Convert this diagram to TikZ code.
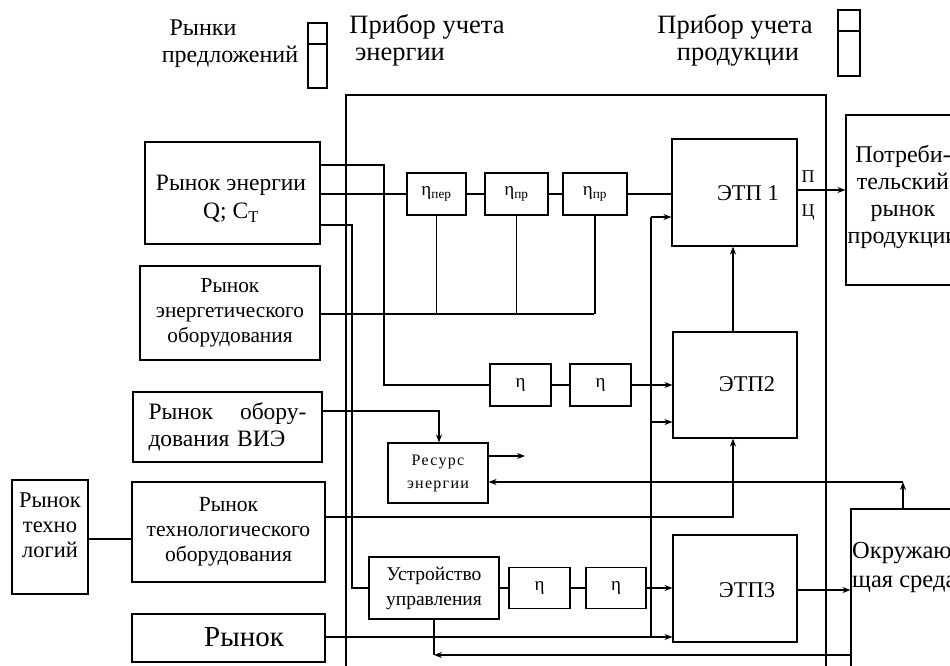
\documentclass[tikz,border=0pt]{standalone}
\usepackage{fontspec}
\setmainfont{Liberation Serif}
\newfontfamily\spcfont[LetterSpace=8]{Liberation Serif}
\usetikzlibrary{arrows.meta}
\newcommand\fz[2]{\fontsize{#1}{#2}\selectfont}
\begin{document}
\begin{tikzpicture}[x=1pt,y=-1pt,
  bx/.style={draw, line width=1.1pt, inner sep=0pt, align=center},
  ln/.style={line width=1.1pt},
  arr/.style={line width=1.1pt, -{Stealth[length=8pt,width=6pt]}},
  txt/.style={inner sep=0pt, align=center},
  eta/.style={bx, font=\fz{19}{22}}]
\clip (0,0) rectangle (950,666);
\fill[white] (0,0) rectangle (950,666);
% legend
\node[txt, font=\fz{24}{29}] (l1) at (203,28) {Рынки};
\node[txt, font=\fz{24}{29}] (l2) at (230,57) {предложений};
\node[txt, font=\fz{26.5}{29}] (l3) at (427,27) {Прибор учета};
\node[txt, font=\fz{26.5}{29}] (l4) at (400,57) {энергии};
\node[txt, font=\fz{26.5}{29}] (l5) at (735,27) {Прибор учета};
\node[txt, font=\fz{26.5}{29}] (l6) at (738,57) {продукции};
\draw[ln] (308,23) rectangle (327,88);
\draw[ln] (308,44) -- (327,44);
\draw[ln] (838,10) rectangle (860,76);
\draw[ln] (838,31) -- (860,31);
% container
\draw[ln] (346,666) -- (346,95) -- (826,95) -- (826,666);
% left boxes
\node[bx, minimum width=175pt, minimum height=102pt] (mE) at (232.5,193) {};
\node[txt, font=\fz{23.5}{28}] (mEt) at (231,199) {Рынок энергии\\Q; C\textsubscript{T}};
\node[bx, minimum width=180pt, minimum height=94pt, font=\fz{21.3}{25}] (mEO) at (230,313) {Рынок\\энергетического\\оборудования};
\node[bx, minimum width=189pt, minimum height=70pt, font=\fz{23.5}{27}, text width=158pt, align=left] (mV) at (227.5,427) {Рынок\hfill обору-\\дования ВИЭ};
\node[bx, minimum width=193pt, minimum height=100pt, font=\fz{21.6}{25}] (mTO) at (228.5,532) {Рынок\\технологического\\оборудования};
\node[bx, minimum width=76pt, minimum height=114pt] (mT) at (50,537) {};
\node[txt, font=\fz{22.5}{25}] (mTt) at (50,525) {Рынок\\техно\\логий};
\node[bx, minimum width=193pt, minimum height=48pt] (mR) at (228.5,638) {};
\node[txt, font=\fz{29}{30}] (mRt) at (244,637) {Рынок};
% eta boxes row 1
\node[eta, minimum width=59pt, minimum height=42pt] (a) at (436.5,194) {\raisebox{-3pt}{η\textsubscript{пер}}};
\node[eta, minimum width=63pt, minimum height=42pt] (b) at (516.5,194) {\raisebox{-3pt}{η\textsubscript{пр}}};
\node[eta, minimum width=64pt, minimum height=42pt] (c) at (595,194) {\raisebox{-3pt}{η\textsubscript{пр}}};
% eta row 2
\node[eta, minimum width=61pt, minimum height=42pt] (f) at (520.5,385) {η};
\node[eta, minimum width=61pt, minimum height=42pt] (g) at (600.5,385) {η};
% ETP boxes
\node[bx, minimum width=125pt, minimum height=107pt] (e1) at (734.5,192.5) {};
\node[txt, font=\fz{22.5}{26}] (e1t) at (748,193) {ЭТП 1};
\node[bx, minimum width=124pt, minimum height=106pt] (e2) at (735,385) {};
\node[txt, font=\fz{22.5}{26}] (e2t) at (747,384) {ЭТП2};
\node[bx, minimum width=124pt, minimum height=107pt] (e3) at (735,588.5) {};
\node[txt, font=\fz{22.5}{26}] (e3t) at (747,590) {ЭТП3};
% resource, control
\node[bx, minimum width=100pt, minimum height=60pt, font=\spcfont\fz{16}{23}] (res) at (438,473) {Ресурс\\энергии};
\node[bx, minimum width=130pt, minimum height=62pt, font=\fz{19.5}{25}] (ust) at (434,588) {Устройство\\управления};
\node[eta, minimum width=61pt, minimum height=41pt] (d) at (539.5,588) {η};
\node[eta, minimum width=60pt, minimum height=41pt] (e) at (616,588) {η};
% right boxes
\node[bx, minimum width=120pt, minimum height=170pt] (p) at (906,200) {};
\node[txt, font=\fz{24}{27}] (pt) at (903,197) {Потреби-\\тельский\\рынок\\продукции};
\node[bx, minimum width=120pt, minimum height=182pt] (env) at (911,600) {};
\node[txt, font=\fz{24.5}{29}, align=left, anchor=west] (envt) at (852,567) {Окружаю-\\щая среда};
\node[txt, font=\fz{18}{20}] (pl) at (808,177) {П};
\node[txt, font=\fz{18}{20}] (cl) at (808,213) {Ц};
% connectors
\draw[ln] (mE.east |- 0,165) -- (384,165) -- (384,385) -- (f.west);
\draw[ln] (mE.east |- 0,194) -- (a.west);
\draw[ln] (mE.east |- 0,225) -- (352,225) -- (352,588) -- (ust.west);
\draw[ln] (a.east) -- (b.west);
\draw[ln] (b.east) -- (c.west);
\draw[ln] (c.east) -- (c.east -| e1.west);
\draw[ln] (mEO.east |- 0,314) -- (594,314);
\draw[ln] (a.south) -- (a.south |- 0,314);
\draw[ln] (b.south) -- (b.south |- 0,314);
\draw[ln] (c.south) -- (c.south |- 0,314);
\draw[ln] (f.east) -- (g.west);
\draw[arr] (g.east) -- (g.east -| e2.west);
\draw[ln] (651,217) -- (651,637);
\draw[arr] (651,217) -- (e1.west |- 0,217);
\draw[arr] (651,422) -- (e2.west |- 0,422);
\draw[arr] (e2.north -| 733,0) -- (e1.south -| 733,0);
\draw[arr] (mV.east |- 0,411) -- (439,411) -- (res.north -| 439,0);
\draw[arr] (res.east |- 0,456) -- (525,456);
\draw[arr] (mTO.east |- 0,517) -- (733,517) -- (e2.south -| 733,0);
\draw[ln] (mT.east |- 0,539) -- (mTO.west |- 0,539);
\draw[ln] (ust.east) -- (d.west);
\draw[ln] (d.east) -- (e.west);
\draw[arr] (e.east) -- (e.east -| e3.west);
\draw[arr] (mR.east |- 0,637) -- (e3.west |- 0,637);
\draw[arr] (e1.east |- 0,190) -- (p.west |- 0,190);
\draw[arr] (e3.east |- 0,590) -- (env.west |- 0,590);
\draw[arr] (env.north -| 903,0) -- (903,482);
\draw[arr] (903,482) -- (res.east |- 0,482);
\draw[ln] (ust.south) -- (ust.south |- 0,655);
\draw[arr] (env.west |- 0,655) -- (ust.south |- 0,655);
\end{tikzpicture}
\end{document}
